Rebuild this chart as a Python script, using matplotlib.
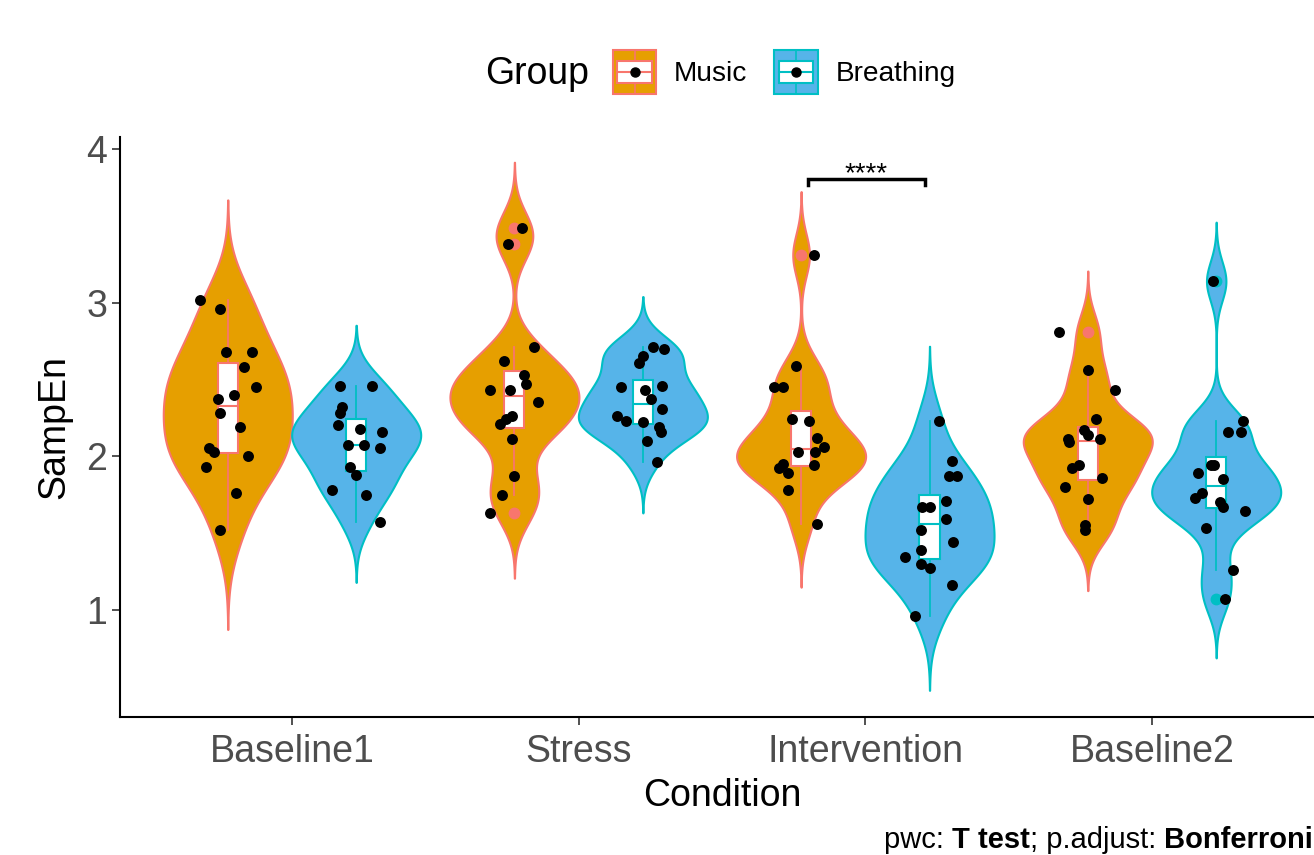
import numpy as np
import matplotlib
matplotlib.use("Agg")
import matplotlib.pyplot as plt
from matplotlib.patches import Rectangle
from matplotlib.lines import Line2D
from matplotlib.legend_handler import HandlerBase

plt.rcParams["font.family"] = ["Liberation Sans", "DejaVu Sans"]

conditions = ["Baseline1", "Stress", "Intervention", "Baseline2"]
groups = ["Music", "Breathing"]

# SampEn per participant
music_baseline1 = [3.02, 2.96, 2.68, 2.68, 2.58, 2.45, 2.40, 2.37, 2.28, 2.19, 2.05, 2.03, 2.00, 1.93, 1.76, 1.52]
music_stress = [3.49, 3.38, 2.71, 2.62, 2.53, 2.47, 2.43, 2.43, 2.35, 2.26, 2.24, 2.21, 2.11, 1.87, 1.75, 1.63]
music_intervention = [3.31, 2.59, 2.45, 2.45, 2.24, 2.23, 2.12, 2.06, 2.03, 2.03, 1.94, 1.95, 1.92, 1.89, 1.78, 1.56]
music_baseline2 = [2.81, 2.56, 2.43, 2.24, 2.17, 2.14, 2.11, 2.09, 2.11, 1.94, 1.92, 1.86, 1.80, 1.72, 1.55, 1.52]

breathing_baseline1 = [2.46, 2.46, 2.32, 2.28, 2.20, 2.18, 2.16, 2.07, 2.07, 2.05, 1.93, 1.88, 1.78, 1.75, 1.57]
breathing_stress = [2.71, 2.70, 2.65, 2.61, 2.45, 2.46, 2.43, 2.37, 2.31, 2.26, 2.23, 2.22, 2.19, 2.16, 2.10, 1.96]
breathing_intervention = [2.23, 1.97, 1.87, 1.87, 1.71, 1.67, 1.67, 1.59, 1.52, 1.44, 1.39, 1.34, 1.30, 1.27, 1.16, 0.96]
breathing_baseline2 = [3.14, 2.23, 2.16, 2.16, 1.94, 1.94, 1.89, 1.85, 1.76, 1.73, 1.70, 1.67, 1.64, 1.53, 1.26, 1.07]

# horizontal jitter of each point (same order as above)
music_jitter_b1 = [-0.098, -0.028, -0.007, 0.085, 0.057, 0.098, 0.022, -0.035, -0.028, 0.042, -0.064, -0.048, 0.070, -0.077, 0.028, -0.028]
music_jitter_st = [0.028, -0.023, 0.069, -0.036, 0.034, 0.041, -0.086, -0.015, 0.083, -0.007, -0.030, -0.052, -0.008, 0.0, -0.043, -0.086]
music_jitter_in = [0.044, -0.019, -0.093, -0.064, -0.033, 0.029, 0.056, 0.079, 0.049, -0.012, 0.044, -0.064, -0.076, -0.046, -0.046, 0.056]
music_jitter_b2 = [-0.099, 0.0, 0.096, 0.028, -0.014, 0.0, -0.070, -0.064, 0.043, -0.029, -0.055, 0.049, -0.078, 0.0, -0.008, -0.008]

breathing_jitter_b1 = [-0.057, 0.056, -0.049, -0.056, -0.064, 0.013, 0.091, -0.029, 0.028, 0.084, -0.021, 0.0, -0.084, 0.034, 0.084]
breathing_jitter_st = [0.037, 0.073, 0.0, -0.012, -0.075, 0.066, 0.009, 0.029, 0.066, -0.089, -0.058, 0.002, 0.058, 0.064, 0.016, 0.050]
breathing_jitter_in = [0.032, 0.077, 0.067, 0.096, 0.056, -0.026, 0.003, 0.056, -0.029, 0.082, -0.029, -0.084, -0.029, 0.0, 0.078, -0.049]
breathing_jitter_b2 = [-0.012, 0.093, 0.085, 0.041, -0.017, -0.006, -0.064, 0.023, -0.050, -0.075, 0.015, 0.023, 0.099, -0.035, 0.058, 0.029]

fill_colors = {"Music": "#E69F00", "Breathing": "#56B4E9"}
line_colors = {"Music": "#F8766D", "Breathing": "#00BFC4"}

samples = {
    "Music": [music_baseline1, music_stress, music_intervention, music_baseline2],
    "Breathing": [breathing_baseline1, breathing_stress, breathing_intervention, breathing_baseline2],
}
jitters = {
    "Music": [music_jitter_b1, music_jitter_st, music_jitter_in, music_jitter_b2],
    "Breathing": [breathing_jitter_b1, breathing_jitter_st, breathing_jitter_in, breathing_jitter_b2],
}
dodge = {"Music": -0.224, "Breathing": 0.224}


def violin_density(vals):
    # gaussian kde, bw.nrd0, tails extended 3 bandwidths
    v = np.asarray(vals, dtype=float)
    n = len(v)
    q1, q3 = np.percentile(v, [25, 75])
    lo = min(np.std(v, ddof=1), (q3 - q1) / 1.34)
    bw = 0.9 * lo * n ** -0.2
    grid = np.linspace(v.min() - 3 * bw, v.max() + 3 * bw, 512)
    dens = np.exp(-0.5 * ((grid[:, None] - v[None, :]) / bw) ** 2).sum(axis=1)
    return grid, dens / dens.max()


class GroupKey:
    def __init__(self, fill, edge):
        self.fill = fill
        self.edge = edge


class GroupKeyHandler(HandlerBase):
    def create_artists(self, legend, orig_handle, xdescent, ydescent, width, height, fontsize, trans):
        x0, y0 = -xdescent, -ydescent
        cx, cy = x0 + width / 2, y0 + height / 2
        e = orig_handle.edge
        bg = Rectangle((x0, y0), width, height, fc=orig_handle.fill, ec=e, lw=1.5, transform=trans)
        whisk = Line2D([cx, cx], [y0, y0 + height], color=e, lw=1.2, transform=trans)
        box = Rectangle((x0 + 0.1 * width, y0 + 0.26 * height), 0.8 * width, 0.48 * height,
                        fc="white", ec=e, lw=1.5, transform=trans)
        med = Line2D([x0 + 0.1 * width, x0 + 0.9 * width], [cy, cy], color=e, lw=1.5, transform=trans)
        dot = Line2D([cx], [cy], marker="o", ms=6.5, color="black", lw=0, transform=trans)
        return [bg, whisk, box, med, dot]


fig = plt.figure(figsize=(13.14, 8.55), dpi=100)
ax = fig.add_axes([0.0913, 0.1614, 0.9163, 0.6784])

x_pos = np.arange(1, len(conditions) + 1)

for g in groups:
    for i, vals in enumerate(samples[g]):
        pos = x_pos[i] + dodge[g]
        grid, dens = violin_density(vals)
        half = 0.225 * dens
        ax.fill_betweenx(grid, pos - half, pos + half, facecolor=fill_colors[g],
                         edgecolor=line_colors[g], lw=1.5, zorder=1)
        ax.boxplot([vals], positions=[pos], widths=0.07, patch_artist=True, manage_ticks=False,
                   showcaps=False, whis=1.5, zorder=2,
                   boxprops=dict(facecolor="white", edgecolor=line_colors[g], lw=1.5),
                   medianprops=dict(color=line_colors[g], lw=1.5),
                   whiskerprops=dict(color=line_colors[g], lw=1.3),
                   flierprops=dict(marker="o", markerfacecolor=line_colors[g],
                                   markeredgecolor=line_colors[g], markersize=7.5))
        ax.scatter(pos + np.asarray(jitters[g][i]), vals, s=62, color="black", lw=0, zorder=5)

# significance bracket for Intervention
ax.plot([2.80, 2.80, 3.208, 3.208], [3.764, 3.807, 3.807, 3.764], color="black", lw=2.5,
        solid_joinstyle="miter", zorder=6)
ax.text(3.004, 3.79, "****", ha="center", va="baseline", fontsize=20, zorder=6)

ax.set_xlim(0.4, 4.6)
ax.set_ylim(0.30, 4.08)
ax.set_xticks(x_pos)
ax.set_xticklabels(conditions)
ax.set_yticks([1, 2, 3, 4])
ax.tick_params(axis="both", labelsize=27, labelcolor="#4D4D4D", length=6, width=1.2, color="#333333")
ax.tick_params(axis="x", pad=6)
ax.tick_params(axis="y", pad=3)
ax.set_xlabel("Condition", fontsize=27, labelpad=6)
ax.set_ylabel("SampEn", fontsize=27, labelpad=10)
for side in ["top", "right"]:
    ax.spines[side].set_visible(False)
for side in ["left", "bottom"]:
    ax.spines[side].set_linewidth(1.5)

handles = [GroupKey(fill_colors[g], line_colors[g]) for g in groups]
fig.legend(handles, groups, handler_map={GroupKey: GroupKeyHandler()}, loc="center left",
           bbox_to_anchor=(613 / 1314, 1 - 72 / 855), ncol=2, frameon=False, fontsize=20.2,
           handlelength=1.55, handleheight=2.05, handletextpad=0.63, columnspacing=0.95,
           borderpad=0, borderaxespad=0)
fig.text(589 / 1314, 1 - 74 / 855, "Group", ha="right", va="center", fontsize=27)

# caption with bold parts
t = fig.text(884 / 1314, 7 / 855, "pwc: ", fontsize=21, ha="left", va="baseline")
for piece, weight in [("T test", "bold"), ("; p.adjust: ", "normal"), ("Bonferroni", "bold")]:
    t = ax.annotate(piece, xy=(1, 0), xycoords=t, ha="left", va="bottom", fontsize=21, fontweight=weight,
                    annotation_clip=False)

fig.savefig("out.png", dpi=100)
